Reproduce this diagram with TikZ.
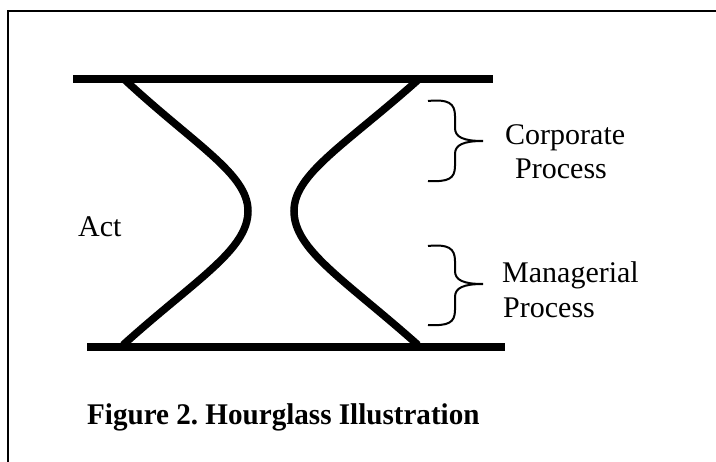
\documentclass[tikz,border=0pt]{standalone}
\usepackage{fontspec}
\setmainfont{Liberation Serif}
\frenchspacing
\begin{document}
\begin{tikzpicture}[x=1pt,y=-1pt,
  bar/.style={line width=8pt},
  glass/.style={line width=7.5pt},
  brace/.style={line width=2pt},
  label/.style={anchor=base west,inner sep=0pt,font=\fontsize{30}{36}\selectfont},
  caption/.style={anchor=base west,inner sep=0pt,font=\fontsize{30}{36}\selectfont\bfseries}]
  \useasboundingbox[fill=white] (0,0) rectangle (716,462);
  % outer frame (left and top edges)
  \draw[line width=2pt] (8,462) -- (8,11) -- (716,11);

  % hourglass bars
  \coordinate (tl) at (73,79);
  \coordinate (tr) at (493,79);
  \coordinate (bl) at (87,347);
  \coordinate (br) at (505,347);
  \draw[bar] (tl) -- (tr);
  \draw[bar] (bl) -- (br);

  % hourglass sides
  \coordinate (lt) at (125,80);
  \coordinate (lw) at (248,211);
  \coordinate (lb) at (123,345);
  \coordinate (rt) at (418,80);
  \coordinate (rw) at (294,211);
  \coordinate (rb) at (418,345);
  \draw[glass] (lt) .. controls (195,145) and (248,174) .. (lw)
                    .. controls (248,250) and (195,280) .. (lb);
  \draw[glass] (rt) .. controls (345,145) and (294,174) .. (rw)
                    .. controls (294,250) and (345,280) .. (rb);

  % braces
  \draw[brace] (428,101) .. controls (448,99) and (455,103) .. (455,116)
               -- (455,128) .. controls (455,137) and (463,141) .. (483,141)
               .. controls (463,141) and (455,145) .. (455,154)
               -- (455,166) .. controls (455,179) and (448,182) .. (428,181);
  \draw[brace] (428,246) .. controls (448,244) and (455,248) .. (455,261)
               -- (455,271) .. controls (455,280) and (463,284) .. (483,284)
               .. controls (463,284) and (455,288) .. (455,297)
               -- (455,310) .. controls (455,323) and (448,326) .. (428,325);

  % labels
  \node[label] (act) at (78,237) {Act};
  \node[label] (corp) at (505,145) {Corporate};
  \node[label] (corp2) at (515,179) {Process};
  \node[label] (man) at (502,283) {Managerial};
  \node[label] (man2) at (503,318) {Process};
  \node[caption] (cap) at (87,425) {\scalebox{0.97}[1]{Figure 2. Hourglass Illustration}};
\end{tikzpicture}
\end{document}
